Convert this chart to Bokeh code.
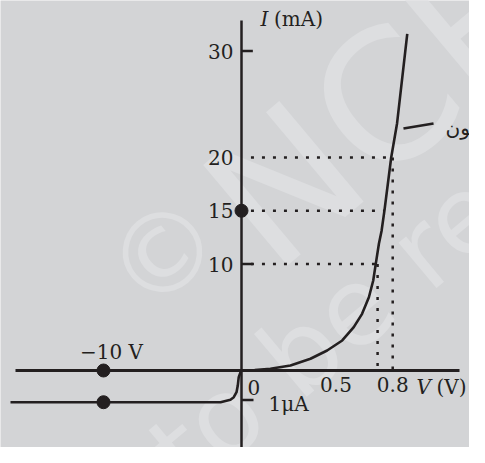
import math
from bokeh.plotting import figure
from bokeh.models import Range1d, LinearAxis, FixedTicker, Label
from bokeh.core.properties import value
from bokeh.embed import file_html
from bokeh.resources import INLINE

# ---------------- data ----------------
# forward bias branch: V (volts) vs I (mA)
fwd_v = [0.0, 0.07, 0.153, 0.259, 0.365, 0.453, 0.533, 0.594, 0.638, 0.674,
         0.697, 0.711, 0.727, 0.741, 0.757, 0.792, 0.823, 0.877]
fwd_i = [0.0, 0.04, 0.16, 0.47, 1.10, 1.88, 2.82, 4.07, 5.32, 6.88,
         8.45, 10.08, 11.9, 13.1, 15.1, 20.0, 23.2, 31.6]

# reverse bias branch: V (volts, separate scale) vs I (microamp)
rev_v = [-16.74, -10.0, -1.52, -0.80, -0.56, -0.36, -0.27, -0.20, -0.07, 0.0]
rev_i = [-1.075, -1.075, -1.075, -0.99, -0.905, -0.736, -0.51, -0.227, -0.058, 0.0]

y_ticks = [10, 15, 20, 30]          # mA
y_tick_marks = [10, 30]
x_ticks = [0.5, 0.8]                # V
x_tick_labels = {0.5: "0.5", 0.8: "0.8"}

guide_i = [10, 15, 20]              # dotted horizontal guides (mA)
guide_v = [0.711, 0.757, 0.792]     # where they meet the curve
drop_v = [0.72, 0.80]               # dotted vertical guides (V)
drop_i = [10, 20]
marked_i = [15]                      # dot on current axis
rev_mark_v = [-10, -10]              # dots on reverse branch
rev_mark_i = [0.0, -1.075]
rev_tick_i = -1.0                    # 1 microamp tick

# ---------------- style ----------------
BG = "#d3d4d6"
INK = "#231f20"
WM = "#dddee0"
SERIF = "DejaVu Serif"
FS = "20px"

p = figure(width=469, height=447,
           x_range=Range1d(-1.2751, 1.2063), y_range=Range1d(-7.230, 34.742),
           x_axis_type=None, y_axis_type=None,
           output_backend="svg", toolbar_location=None, min_border=0)
p.extra_x_ranges = {"rv": Range1d(-17.464, 16.522)}
p.extra_y_ranges = {"ri": Range1d(-2.610, 12.542)}
p.background_fill_color = BG
p.border_fill_color = BG
p.outline_line_color = None

# watermark
ang = math.radians(40)
p.add_layout(Label(x=-0.635, y=7.66, text="©", angle=ang,
                   text_font="DejaVu Sans", text_font_size="110px", text_color=WM,
                   text_align="left", text_baseline="middle", level="underlay"))
p.add_layout(Label(x=-0.040, y=13.31, text="NCERT", angle=ang,
                   text_font="DejaVu Sans", text_font_size="180px", text_color=WM,
                   text_align="left", text_baseline="middle", level="underlay"))
p.add_layout(Label(x=-1.257, y=-21.72, text="not to be republished", angle=ang,
                   text_font="DejaVu Sans", text_font_size="108px", text_color=WM,
                   text_align="left", text_baseline="middle", level="underlay"))

# axes through the origin
yax = LinearAxis(fixed_location=0, ticker=FixedTicker(ticks=y_ticks),
                 bounds=(-9, 32.86), major_tick_in=0, major_tick_out=0,
                 minor_tick_in=0, minor_tick_out=0,
                 axis_line_width=2.5, axis_line_color=INK,
                 major_label_text_font=SERIF, major_label_text_font_size=FS,
                 major_label_text_color=INK, major_label_standoff=8)
p.add_layout(yax, "left")
xax = LinearAxis(fixed_location=0, ticker=FixedTicker(ticks=x_ticks),
                 bounds=(-1.196, 1.153), major_tick_in=0, major_tick_out=0,
                 minor_tick_in=0, minor_tick_out=0,
                 axis_line_width=2.8, axis_line_color=INK,
                 major_label_overrides=x_tick_labels,
                 major_label_text_font=SERIF, major_label_text_font_size=FS,
                 major_label_text_color=INK, major_label_standoff=6)
p.add_layout(xax, "below")

# tick marks
p.segment(x0=[0] * len(y_tick_marks), y0=y_tick_marks,
          x1=[0.06] * len(y_tick_marks), y1=y_tick_marks,
          line_color=INK, line_width=2.5)
p.segment(x0=[0], y0=[rev_tick_i], x1=[0.87], y1=[rev_tick_i],
          line_color=INK, line_width=2.5, x_range_name="rv", y_range_name="ri")

# dotted guides
p.segment(x0=[0.05] * len(guide_i), y0=guide_i, x1=guide_v, y1=guide_i,
          line_color=INK, line_width=2.5, line_dash="3 8")
p.segment(x0=drop_v, y0=drop_i, x1=drop_v, y1=[0] * len(drop_v),
          line_color=INK, line_width=2.5, line_dash="3 8")

# characteristic curves
p.line(fwd_v, fwd_i, line_color=INK, line_width=2.6)
p.line(rev_v, rev_i, line_color=INK, line_width=2.6,
       x_range_name="rv", y_range_name="ri")

# markers
p.scatter([0] * len(marked_i), marked_i, size=13, color=INK)
p.scatter(rev_mark_v, rev_mark_i, size=13, color=INK,
          x_range_name="rv", y_range_name="ri")

# texts
p.text(x=[0.032], y=[-1.64], text=["0"], text_font=value(SERIF),
       text_font_size=FS, text_color=INK, text_align="left",
       text_baseline="alphabetic")
p.text(x=[0.143], y=[-1.13], text=["1μA"], text_font=value(SERIF),
       text_font_size=FS, text_color=INK, text_align="left",
       text_baseline="alphabetic", y_range_name="ri")
p.text(x=[-9.42], y=[1.74], text=["−10 V"], text_font=value(SERIF),
       text_font_size=FS, text_color=INK, text_align="center",
       text_baseline="alphabetic", x_range_name="rv")
# axis titles
p.text(x=[0.926], y=[-1.55], text=["V"], text_font=value(SERIF),
       text_font_style="italic", text_font_size=FS, text_color=INK,
       text_align="left", text_baseline="alphabetic")
p.text(x=[1.032], y=[-1.55], text=["(V)"], text_font=value(SERIF),
       text_font_size=FS, text_color=INK, text_align="left",
       text_baseline="alphabetic")
p.text(x=[0.10], y=[33.01], text=["I"], text_font=value(SERIF),
       text_font_style="italic", text_font_size=FS, text_color=INK,
       text_align="left", text_baseline="alphabetic")
p.text(x=[0.172], y=[33.01], text=["(mA)"], text_font=value(SERIF),
       text_font_size=FS, text_color=INK, text_align="left",
       text_baseline="alphabetic")

# curve label (Urdu) with pointer
p.segment(x0=[0.857], y0=[22.72], x1=[1.016], y1=[23.19],
          line_color=INK, line_width=2.5)
p.text(x=[1.079], y=[22.77], text=["سلیکون"], text_font=value("DejaVu Sans"),
       text_font_size=FS, text_color=INK, text_align="left",
       text_baseline="alphabetic")

open("out.html", "w").write(file_html(p, INLINE))
